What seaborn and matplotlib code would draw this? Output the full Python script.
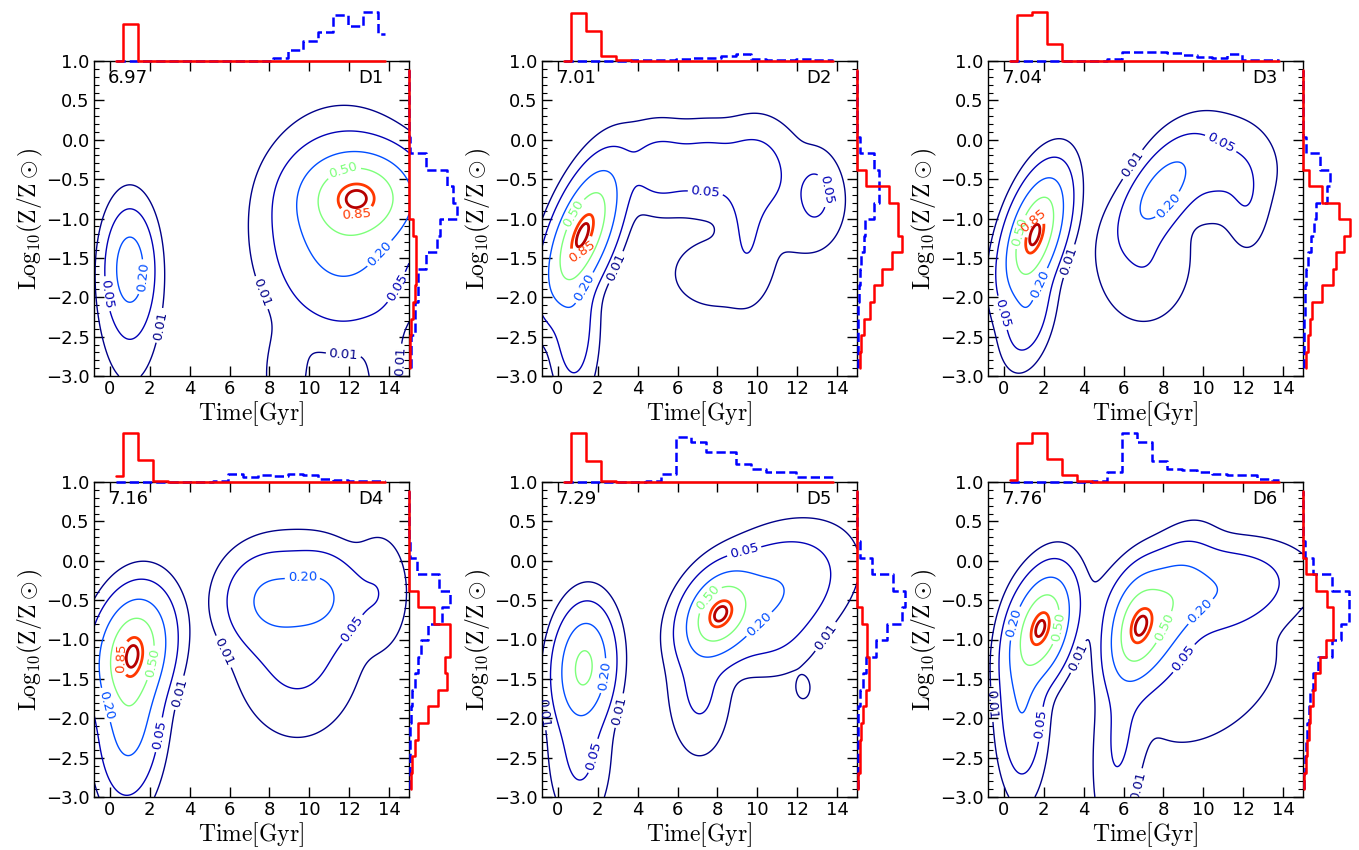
"""Time / metallicity density contours with marginal histograms (D1-D6)"""
import matplotlib
matplotlib.use("Agg")
import matplotlib.pyplot as plt
from matplotlib.ticker import MultipleLocator
import numpy as np
import seaborn as sns

# ---------------- data ----------------
NAMES = ["D1", "D2", "D3", "D4", "D5", "D6"]
VALUES = ["6.97", "7.01", "7.04", "7.16", "7.29", "7.76"]
LEVELS = [0.01, 0.05, 0.20, 0.50, 0.85, 0.95]

# density blobs: (t0 [Gyr], logZ0, sigma_t, sigma_z, rho, amplitude)
D1_BLOBS = [(1.0, -1.62, 0.60, 0.36, 0.0, 0.30), (1.0, -1.90, 0.80, 0.60, 0.0, 0.07),
            (12.5, -0.72, 1.50, 0.30, 0.0, 0.80), (11.7, -1.15, 1.80, 0.60, 0.0, 0.33),
            (8.8, -3.00, 0.70, 0.40, 0.0, 0.025), (13.8, -3.00, 0.60, 0.50, 0.0, 0.02)]
D2_BLOBS = [(1.25, -1.20, 0.95, 0.45, 0.60, 1.00), (0.8, -2.30, 0.60, 0.50, 0.0, 0.12),
            (5.0, -0.35, 1.00, 0.30, 0.0, 0.08), (7.5, -0.35, 1.20, 0.30, 0.0, 0.08),
            (10.0, -0.40, 1.00, 0.35, 0.0, 0.08), (9.5, -1.10, 0.60, 0.45, 0.0, 0.05),
            (12.9, -0.70, 0.55, 0.25, 0.0, 0.06), (12.5, -0.80, 1.50, 0.50, 0.0, 0.02),
            (8.0, -1.70, 1.80, 0.35, 0.0, 0.02)]
D3_BLOBS = [(1.55, -1.20, 0.80, 0.40, 0.50, 1.00), (1.2, -2.15, 0.65, 0.35, 0.3, 0.15),
            (7.9, -0.65, 1.00, 0.32, 0.60, 0.32), (10.5, -0.35, 1.60, 0.35, 0.0, 0.07),
            (7.0, -1.50, 1.30, 0.45, 0.0, 0.05), (12.2, -0.80, 0.60, 0.35, 0.0, 0.035)]
D4_BLOBS = [(1.15, -1.15, 0.95, 0.38, 0.20, 1.00), (1.0, -1.90, 0.80, 0.55, 0.10, 0.40),
            (8.0, -0.50, 1.20, 0.32, 0.0, 0.25), (10.5, -0.45, 1.10, 0.30, 0.0, 0.24),
            (9.4, -1.00, 1.60, 0.60, 0.0, 0.10), (13.5, -0.40, 0.80, 0.40, 0.0, 0.05)]
D5_BLOBS = [(1.3, -1.35, 0.75, 0.38, 0.1, 0.52), (1.1, -2.40, 0.80, 0.50, 0.0, 0.06),
            (8.1, -0.68, 0.90, 0.28, 0.3, 0.80), (10.4, -0.45, 1.90, 0.40, 0.4, 0.20),
            (7.1, -1.60, 0.80, 0.45, 0.0, 0.06), (11.0, -1.00, 1.20, 0.30, 0.0, 0.02),
            (12.3, -1.62, 0.25, 0.10, 0.0, 0.02)]
D6_BLOBS = [(1.85, -0.85, 0.80, 0.36, 0.35, 1.00), (0.9, -1.80, 0.60, 0.55, 0.0, 0.20),
            (6.7, -0.85, 0.75, 0.35, 0.30, 0.80), (8.0, -0.70, 1.10, 0.45, 0.5, 0.35),
            (10.0, -0.40, 2.30, 0.30, 0.25, 0.20), (5.8, -2.20, 0.70, 0.70, 0.3, 0.06),
            (10.5, -1.60, 2.00, 0.45, 0.5, 0.035)]

# marginal histograms (relative counts)
TIME_BINS = np.linspace(0.3, 13.8, 19)
METAL_BINS = np.linspace(-2.9, 0.88, 19)

D1_TIME_RED = [0, 110, 0, 0, 0, 0, 0, 0, 0, 0, 0, 0, 0, 0, 0, 0, 0, 0, 0]
D1_TIME_BLUE = [0, 0, 0, 0, 0, 0, 0, 0, 0, 0, 0, 8, 33, 61, 86, 136, 103, 145, 80]
D2_TIME_RED = [0, 143, 88, 15, 3, 1, 1, 0, 0, 0, 0, 0, 0, 0, 0, 0, 0, 0, 0]
D2_TIME_BLUE = [1, 1, 1, 1, 1, 4, 4, 4, 5, 8, 10, 16, 20, 6, 4, 4, 5, 3, 2]
D3_TIME_RED = [0, 138, 146, 50, 0, 0, 0, 0, 0, 0, 0, 0, 0, 0, 0, 0, 0, 0, 0]
D3_TIME_BLUE = [0, 1, 1, 1, 1, 1, 1, 5, 28, 28, 28, 23, 18, 11, 8, 20, 3, 3, 2]
D4_TIME_RED = [17, 145, 65, 3, 0, 0, 0, 0, 0, 0, 0, 0, 0, 0, 0, 0, 0, 0, 0]
D4_TIME_BLUE = [0, 0, 0, 0, 0, 0, 0, 4, 23, 15, 20, 17, 25, 20, 10, 7, 3, 3, 3]
D5_TIME_RED = [0, 145, 62, 3, 0, 0, 0, 0, 0, 0, 0, 0, 0, 0, 0, 0, 0, 0, 0]
D5_TIME_BLUE = [0, 0, 0, 0, 0, 0, 3, 25, 133, 120, 88, 88, 55, 38, 30, 30, 15, 15, 15]
D6_TIME_RED = [7, 115, 145, 70, 20, 3, 0, 0, 0, 0, 0, 0, 0, 0, 0, 0, 0, 0, 0]
D6_TIME_BLUE = [0, 0, 0, 0, 0, 0, 2, 30, 145, 120, 63, 40, 35, 30, 25, 20, 20, 10, 5]

D1_METAL_RED = [2, 2, 7, 12, 17, 22, 22, 22, 12, 0, 0, 0, 0, 0, 0, 0, 0, 0, 0]
D1_METAL_BLUE = [7, 7, 17, 17, 27, 27, 52, 82, 92, 142, 132, 112, 52, 3, 0, 0, 0, 0, 0]
D2_METAL_RED = [8, 13, 21, 40, 50, 74, 105, 135, 123, 123, 94, 27, 0, 0, 0, 0, 0, 0, 0]
D2_METAL_BLUE = [2, 2, 2, 3, 5, 8, 12, 20, 25, 50, 65, 67, 50, 8, 0, 0, 0, 0, 0]
D3_METAL_RED = [8, 14, 20, 28, 58, 88, 98, 121, 141, 106, 56, 18, 0, 0, 0, 0, 0, 0, 0]
D3_METAL_BLUE = [2, 3, 4, 5, 7, 10, 14, 25, 32, 38, 72, 80, 52, 10, 0, 0, 0, 0, 0]
D4_METAL_RED = [6, 10, 18, 28, 56, 86, 113, 108, 123, 123, 73, 28, 0, 0, 0, 0, 0, 0, 0]
D4_METAL_BLUE = [2, 2, 3, 4, 6, 10, 18, 26, 35, 58, 98, 123, 88, 23, 4, 0, 0, 0, 0]
D5_METAL_RED = [4, 8, 8, 13, 18, 28, 36, 36, 30, 30, 16, 0, 0, 0, 0, 0, 0, 0, 0]
D5_METAL_BLUE = [2, 2, 2, 2, 4, 8, 18, 28, 56, 88, 133, 143, 106, 46, 8, 0, 0, 0, 0]
D6_METAL_RED = [4, 8, 12, 18, 22, 30, 35, 52, 70, 90, 90, 72, 40, 8, 0, 0, 0, 0, 0]
D6_METAL_BLUE = [3, 5, 8, 12, 18, 22, 30, 45, 85, 112, 138, 138, 85, 30, 5, 0, 0, 0, 0]

PANELS = [
    (D1_BLOBS, D1_TIME_RED, D1_TIME_BLUE, D1_METAL_RED, D1_METAL_BLUE),
    (D2_BLOBS, D2_TIME_RED, D2_TIME_BLUE, D2_METAL_RED, D2_METAL_BLUE),
    (D3_BLOBS, D3_TIME_RED, D3_TIME_BLUE, D3_METAL_RED, D3_METAL_BLUE),
    (D4_BLOBS, D4_TIME_RED, D4_TIME_BLUE, D4_METAL_RED, D4_METAL_BLUE),
    (D5_BLOBS, D5_TIME_RED, D5_TIME_BLUE, D5_METAL_RED, D5_METAL_BLUE),
    (D6_BLOBS, D6_TIME_RED, D6_TIME_BLUE, D6_METAL_RED, D6_METAL_BLUE),
]

# ---------------- style ----------------
sns.set_style("ticks")
plt.rcParams["font.family"] = ["DejaVu Sans"]
plt.rcParams["mathtext.fontset"] = "cm"
for key in ["text.color", "axes.labelcolor", "xtick.color", "ytick.color", "axes.edgecolor"]:
    plt.rcParams[key] = "black"

W, H = 1359, 850
fig = plt.figure(figsize=(W / 100, H / 100), dpi=100)

t_grid = np.linspace(-0.8, 15.0, 400)
z_grid = np.linspace(-3.0, 1.0, 300)
T, Z = np.meshgrid(t_grid, z_grid)


def density(blobs):
    d = np.zeros_like(T)
    for t0, z0, st, sz, rho, amp in blobs:
        u = (T - t0) / st
        v = (Z - z0) / sz
        d += amp * np.exp(-(u * u - 2 * rho * u * v + v * v) / (2 * (1 - rho ** 2)))
    return d / d.max()


def add_ax(left, top, width, height):
    return fig.add_axes([left / W, 1 - (top + height) / H, width / W, height / H])


COL_LEFT = [94, 542, 988]
ROW_TOP = [61, 482]
SIZE = 315
colors = [plt.cm.jet(lv) for lv in LEVELS]
widths = [1.0, 1.0, 1.0, 1.0, 2.0, 2.0]

for i, (blobs, t_red, t_blue, z_red, z_blue) in enumerate(PANELS):
    left = COL_LEFT[i % 3]
    top = ROW_TOP[i // 3]
    ax = add_ax(left, top, SIZE, SIZE)

    cs = ax.contour(T, Z, density(blobs), levels=LEVELS, colors=colors, linewidths=widths)
    ax.clabel(cs, levels=LEVELS[:5], fmt="%.2f", fontsize=9.5, inline=True, inline_spacing=3)

    ax.set_xlim(-0.8, 15.0)
    ax.set_ylim(-3.0, 1.0)
    ax.set_xticks(range(0, 15, 2))
    ax.set_yticks(np.arange(-3.0, 1.01, 0.5))
    ax.set_yticklabels([f"{v:.1f}".replace("-", "\u2212") for v in np.arange(-3.0, 1.01, 0.5)])
    ax.yaxis.set_minor_locator(MultipleLocator(0.1))
    ax.tick_params(which="both", direction="in", top=True, right=True, labelsize=13, pad=3)
    ax.tick_params(which="major", length=7, width=1)
    ax.tick_params(which="minor", length=3.5, width=0.8)
    for sp in ax.spines.values():
        sp.set_linewidth(1.0)
    ax.set_xlabel(r"$\mathrm{Time[Gyr]}$", fontsize=17, labelpad=1)
    ax.set_ylabel(r"$\mathrm{Log_{10}(Z/Z\odot)}$", fontsize=17, labelpad=1)
    ax.text(0.045, 0.945, VALUES[i], transform=ax.transAxes, fontsize=13, va="center", ha="left")
    ax.text(0.92, 0.945, NAMES[i], transform=ax.transAxes, fontsize=13, va="center", ha="right")

    # marginal histogram on top
    axt = add_ax(left, top - 49, SIZE, 49)
    sns.lineplot(x=TIME_BINS, y=t_red, color="red", lw=1.8, drawstyle="steps-mid",
                 ax=axt, clip_on=False, zorder=3)
    sns.lineplot(x=TIME_BINS, y=t_blue, color="blue", lw=1.8, ls="--", drawstyle="steps-mid",
                 ax=axt, clip_on=False, zorder=2)
    axt.set_xlim(-0.8, 15.0)
    axt.set_ylim(0, 146)
    axt.axis("off")

    # marginal histogram on the right
    axr = add_ax(left + SIZE, top, 48, SIZE)
    sns.lineplot(x=z_red, y=METAL_BINS, sort=False, estimator=None, color="red", lw=1.8,
                 drawstyle="steps-pre", ax=axr, clip_on=False, zorder=3)
    sns.lineplot(x=z_blue, y=METAL_BINS, sort=False, estimator=None, color="blue", lw=1.8,
                 ls="--", drawstyle="steps-pre", ax=axr, clip_on=False, zorder=2)
    axr.set_xlim(0, 143)
    axr.set_ylim(-3.0, 1.0)
    axr.axis("off")

fig.savefig("out.png", dpi=100)
plt.close(fig)
